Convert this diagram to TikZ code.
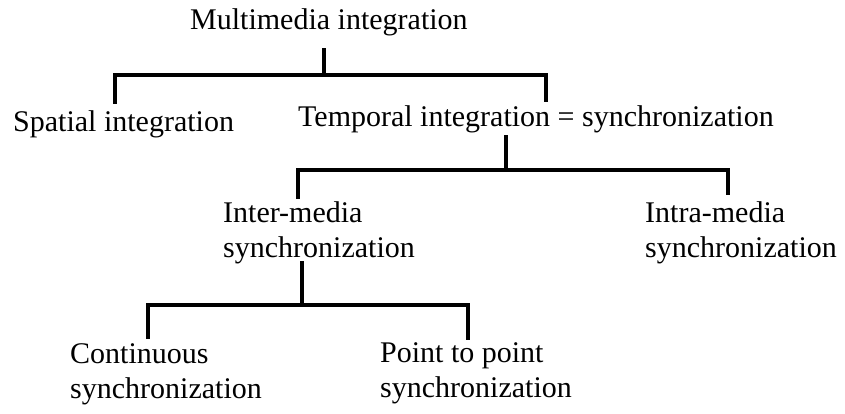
\documentclass[tikz,border=0pt]{standalone}
\usepackage{fontspec}
\setmainfont{Liberation Serif}
\begin{document}
\begin{tikzpicture}[x=1pt,y=-1pt,
  lbl/.style={anchor=base west,inner sep=0pt,align=left,
    font=\fontsize{30}{35}\selectfont},
  bar/.style={line width=3.2pt,line cap=rect,line join=miter}]
\useasboundingbox (0,0) rectangle (845,413);

% labels (two-line labels are placed by the baseline of their last line)
\node[lbl] (mm)   at (190,29)  {Multimedia integration};
\node[lbl] (sp)   at (13,131)  {Spatial integration};
\node[lbl] (tmp)  at (298,126) {Temporal integration = synchronization};
\node[lbl] (inter) at (223,257) {Inter-media\\synchronization};
\node[lbl] (intra) at (645,257) {Intra-media\\synchronization};
\node[lbl] (cont) at (70,398)  {Continuous\\synchronization};
\node[lbl] (ptp)  at (380,397) {Point to point\\synchronization};

% branch points
\coordinate (s1) at (324,50);  \coordinate (j1) at (324,75);
\coordinate (a1) at (115,102); \coordinate (b1) at (546,100);
\coordinate (s2) at (506,137); \coordinate (j2) at (506,170);
\coordinate (a2) at (298,197); \coordinate (b2) at (728,193);
\coordinate (s3) at (302,263); \coordinate (j3) at (302,305);
\coordinate (a3) at (148,337); \coordinate (b3) at (468,338);

% brackets
\draw[bar] (s1) -- (j1);
\draw[bar] (a1) |- (j1) -| (b1);
\draw[bar] (s2) -- (j2);
\draw[bar] (a2) |- (j2) -| (b2);
\draw[bar] (s3) -- (j3);
\draw[bar] (a3) |- (j3) -| (b3);
\end{tikzpicture}
\end{document}
